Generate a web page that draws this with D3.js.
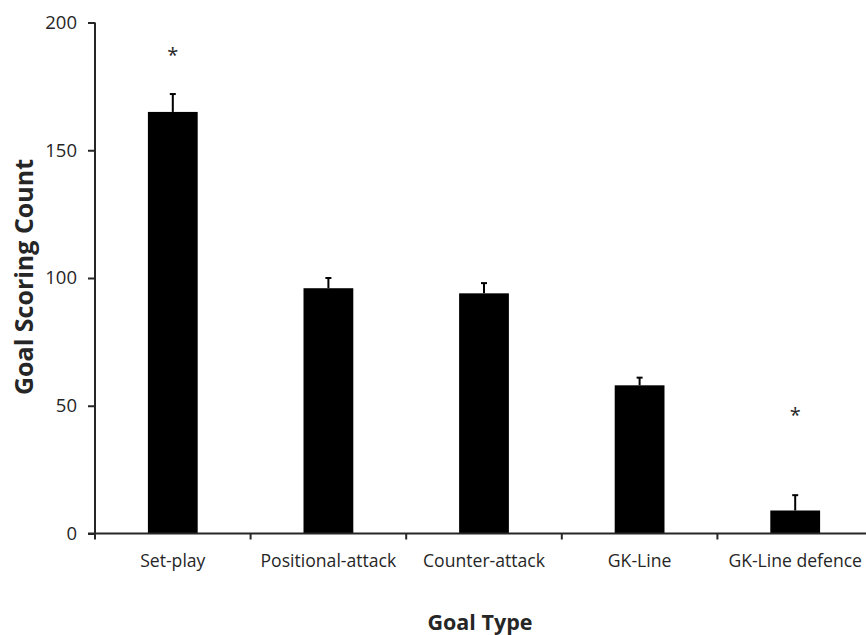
<!DOCTYPE html>
<html>
<head>
<meta charset="utf-8">
<script src="https://cdn.jsdelivr.net/npm/d3@7"></script>
<style>
  html, body { margin: 0; padding: 0; background: #fff; }
  svg { display: block; }
</style>
</head>
<body>
<div id="chart"></div>
<script>
/* global d3 */
const categories = ['Set-play', 'Positional-attack', 'Counter-attack', 'GK-Line', 'GK-Line defence'];
const counts = [165, 96, 94, 58, 9];
const errorTops = [172, 100, 98, 61, 15];
// asterisk markers: category and the value level where they sit
const sigCategories = ['Set-play', 'GK-Line defence'];
const sigLevels = [189, 48];
const yTicks = [0, 50, 100, 150, 200];

const w = 866, h = 635;
const margin = { top: 22.5, right: -7, bottom: 101.5, left: 95 };
const iw = w - margin.left - margin.right, ih = h - margin.top - margin.bottom;
const font = '"Open Sans", sans-serif';
const ink = '#262626';

const svg = d3.select('#chart').append('svg').attr('width', w).attr('height', h);
const g = svg.append('g').attr('transform', `translate(${margin.left},${margin.top})`);

const x = d3.scaleBand().domain(categories).range([0, iw]).paddingInner(0.68).paddingOuter(0.34);
const y = d3.scaleLinear().domain([0, 200]).range([ih, 0]);
const step = x.step();

// bars
g.selectAll('rect.bar').data(categories).join('rect')
  .attr('class', 'bar')
  .attr('x', d => x(d)).attr('width', x.bandwidth())
  .attr('y', (d, i) => y(counts[i])).attr('height', (d, i) => y(0) - y(counts[i]))
  .attr('fill', '#000');

// error bars (upper only)
const cx = d => x(d) + x.bandwidth() / 2;
g.selectAll('line.err').data(categories).join('line')
  .attr('class', 'err')
  .attr('x1', cx).attr('x2', cx)
  .attr('y1', (d, i) => y(counts[i])).attr('y2', (d, i) => y(errorTops[i]))
  .attr('stroke', '#000').attr('stroke-width', 2);
g.selectAll('line.cap').data(categories).join('line')
  .attr('class', 'cap')
  .attr('x1', d => cx(d) - 3).attr('x2', d => cx(d) + 3)
  .attr('y1', (d, i) => y(errorTops[i])).attr('y2', (d, i) => y(errorTops[i]))
  .attr('stroke', '#000').attr('stroke-width', 2);

// significance markers
g.selectAll('text.sig').data(sigCategories).join('text')
  .attr('class', 'sig')
  .attr('x', cx)
  .attr('y', (d, i) => y(sigLevels[i]))
  .attr('text-anchor', 'middle').attr('dy', '0.55em')
  .attr('font-family', font).attr('font-size', 20).attr('fill', ink)
  .text('*');

// y axis
const yAxis = g.append('g').call(d3.axisLeft(y).tickValues(yTicks).tickSize(7).tickPadding(11));
yAxis.select('.domain').attr('stroke', ink).attr('stroke-width', 2).attr('d', `M0,${ih}V0`);
yAxis.selectAll('.tick line').attr('stroke', ink).attr('stroke-width', 2);
yAxis.selectAll('.tick text').attr('fill', ink).attr('font-size', 18.5).attr('font-family', font);

// x axis: ticks on category boundaries
const xAxis = g.append('g').attr('transform', `translate(0,${ih})`);
xAxis.append('line').attr('x1', -7).attr('x2', iw).attr('y1', 0).attr('y2', 0)
  .attr('stroke', ink).attr('stroke-width', 2);
xAxis.selectAll('line.xtick').data(categories).join('line')
  .attr('class', 'xtick')
  .attr('x1', d => x(d) - x.paddingOuter() * step).attr('x2', d => x(d) - x.paddingOuter() * step)
  .attr('y1', 0).attr('y2', 6)
  .attr('stroke', ink).attr('stroke-width', 2);
xAxis.selectAll('text.xlab').data(categories).join('text')
  .attr('class', 'xlab')
  .attr('x', cx).attr('y', 33.5)
  .attr('text-anchor', 'middle')
  .attr('fill', ink).attr('font-size', 17.6).attr('font-family', font)
  .text(d => d);

// axis titles
svg.append('text')
  .attr('x', 480).attr('y', 630)
  .attr('text-anchor', 'middle')
  .attr('font-family', font).attr('font-weight', 700).attr('font-size', 21.5).attr('fill', ink)
  .text('Goal Type');
svg.append('text')
  .attr('transform', 'translate(33,277) rotate(-90)')
  .attr('text-anchor', 'middle')
  .attr('font-family', font).attr('font-weight', 700).attr('font-size', 25).attr('fill', ink)
  .text('Goal Scoring Count');
</script>
</body>
</html>
